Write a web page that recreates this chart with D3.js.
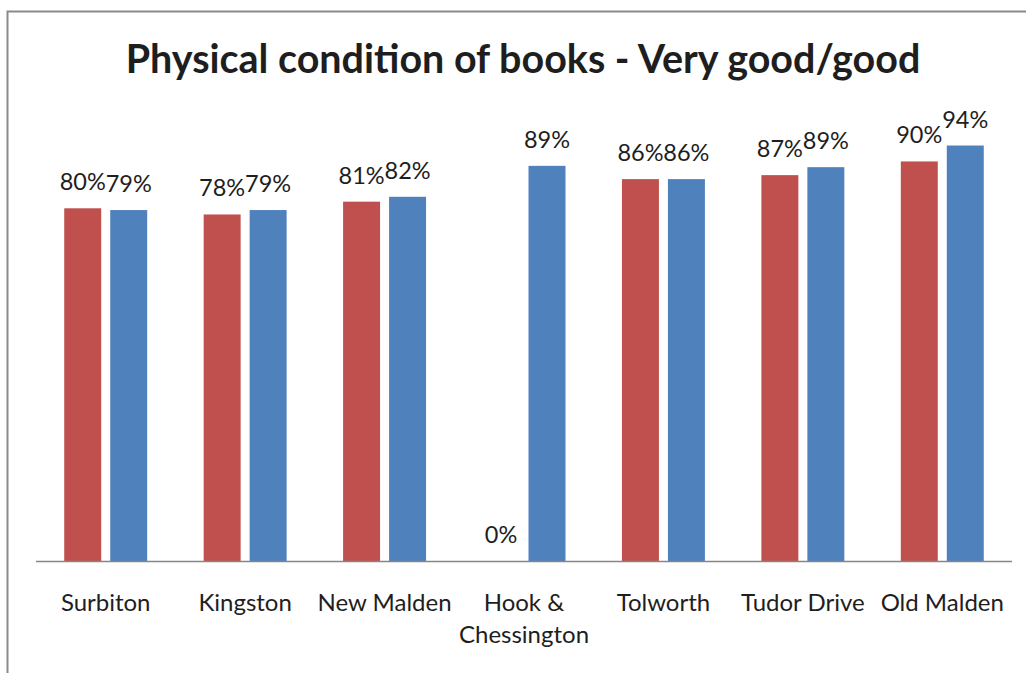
<!DOCTYPE html>
<html>
<head>
<meta charset="utf-8">
<script src="https://cdn.jsdelivr.net/npm/d3@7"></script>
<style>
  body { margin: 0; background: #fff; }
  text { font-family: Lato, "Open Sans", sans-serif; fill: #1e1e1e; }
</style>
</head>
<body>
<script>
// data
const categories = ["Surbiton", "Kingston", "New Malden", "Hook & Chessington", "Tolworth", "Tudor Drive", "Old Malden"];
const seriesA = [79.8, 78.4, 81.3, 0, 86.4, 87.3, 90.4];   // red
const seriesB = [79.4, 79.4, 82.4, 89.4, 86.4, 89.1, 94.0]; // blue
const seriesNames = ["A", "B"];
const colours = ["#C0504D", "#4F81BD"];
const title = "Physical condition of books - Very good/good";

const W = 1026, H = 673;

const svg = d3.select("body")
    .append("svg")
    .attr("width", W)
    .attr("height", H);

// outer frame (right and bottom edges fall off the picture)
svg.append("path")
    .attr("d", "M7.5,680 V11.5 H1040")
    .attr("fill", "none")
    .attr("stroke", "#8a8a8a")
    .attr("stroke-width", 2);

// title, sized so its width fits the reference
const t = svg.append("text")
    .attr("x", 523)
    .attr("y", 73)
    .attr("text-anchor", "middle")
    .attr("font-weight", "bold")
    .attr("font-size", 34)
    .text(title);
const tw = t.node().getComputedTextLength();
t.attr("font-size", 34 * 795 / tw);

const x = d3.scaleBand()
    .domain(categories)
    .range([36, 1012])
    .paddingInner(0.405)
    .paddingOuter(0.2025);

const xs = d3.scaleBand()
    .domain(seriesNames)
    .range([0, x.bandwidth()])
    .paddingInner(0.196);

const y = d3.scaleLinear()
    .domain([0, 100])
    .range([561, 119]);

const rows = categories.map((c, i) => ({
    cat: c,
    vals: [{ s: "A", v: seriesA[i] }, { s: "B", v: seriesB[i] }]
}));

const groups = svg.selectAll(".grp")
    .data(rows)
    .enter()
    .append("g")
    .attr("class", "grp")
    .attr("transform", d => `translate(${x(d.cat)},0)`);

groups.selectAll("rect")
    .data(d => d.vals)
    .enter()
    .append("rect")
    .attr("x", d => xs(d.s))
    .attr("y", d => y(d.v))
    .attr("width", xs.bandwidth())
    .attr("height", d => y(0) - y(d.v))
    .attr("fill", (d, i) => colours[i]);

groups.selectAll(".lbl")
    .data(d => d.vals)
    .enter()
    .append("text")
    .attr("class", "lbl")
    .attr("x", d => xs(d.s) + xs.bandwidth() / 2)
    .attr("y", d => y(d.v) - 18)
    .attr("text-anchor", "middle")
    .attr("font-size", 23.5)
    .text(d => Math.round(d.v) + "%");

// axis line
svg.append("line")
    .attr("x1", 36)
    .attr("x2", 1012)
    .attr("y1", 561.5)
    .attr("y2", 561.5)
    .attr("stroke", "#868686")
    .attr("stroke-width", 1.5);

// category labels, wrapped like the reference
const wrapAt = { "Hook & Chessington": ["Hook &", "Chessington"] };
svg.selectAll(".cat")
    .data(categories)
    .enter()
    .append("text")
    .attr("class", "cat")
    .attr("x", d => x(d) + x.bandwidth() / 2)
    .attr("y", 611)
    .attr("text-anchor", "middle")
    .attr("font-size", 24)
    .each(function (d) {
        const lines = wrapAt[d] || [d];
        d3.select(this).selectAll("tspan")
            .data(lines)
            .enter()
            .append("tspan")
            .attr("x", x(d) + x.bandwidth() / 2)
            .attr("dy", (l, i) => i ? 32 : 0)
            .text(l => l);
    });
</script>
</body>
</html>
